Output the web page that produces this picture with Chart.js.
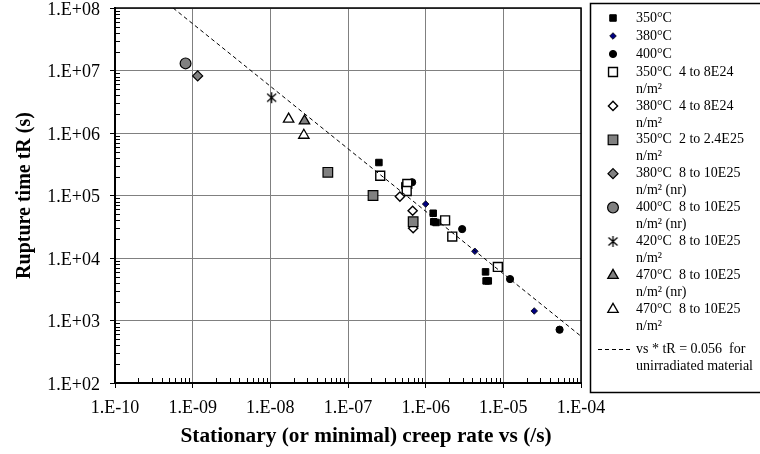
<!DOCTYPE html>
<html>
<head>
<meta charset="utf-8">
<script src="https://cdn.jsdelivr.net/npm/chart.js@4.4.1/dist/chart.umd.min.js"></script>
<style>
html, body { margin: 0; padding: 0; background: #fff; }
</style>
</head>
<body>
<canvas id="myChart" width="760" height="454"></canvas>
<script>
// tick values and labels
var xTicks = [1e-10, 1e-9, 1e-8, 1e-7, 1e-6, 1e-5, 1e-4];
var xTickLabels = ["1.E-10", "1.E-09", "1.E-08", "1.E-07", "1.E-06", "1.E-05", "1.E-04"];
var yTicks = [1e2, 1e3, 1e4, 1e5, 1e6, 1e7, 1e8];
var yTickLabels = ["1.E+02", "1.E+03", "1.E+04", "1.E+05", "1.E+06", "1.E+07", "1.E+08"];
var xTitle = "Stationary (or minimal) creep rate vs (/s)";
var yTitle = "Rupture time tR (s)";

// series: creep rate vs (/s) and rupture time tR (s)
var vs350 = [2.5e-7, 5.4e-7, 1.25e-6, 1.27e-6, 1.36e-6, 5.9e-6, 6.0e-6, 6.4e-6];
var tR350 = [3.37e5, 1.44e5, 5.2e4, 3.8e4, 3.7e4, 6.0e3, 4.3e3, 4.3e3];
var vs380 = [1.0e-6, 4.3e-6, 2.5e-5];
var tR380 = [7.3e4, 1.28e4, 1.42e3];
var vs400 = [6.7e-7, 2.95e-6, 1.22e-5, 5.3e-5];
var tR400 = [1.63e5, 2.9e4, 4.6e3, 713];
var vs350a = [2.6e-7, 5.8e-7, 5.7e-7, 1.78e-6, 2.2e-6, 8.5e-6];
var tR350a = [2.07e5, 1.53e5, 1.18e5, 4.0e4, 2.2e4, 7.2e3];
var vs380a = [4.66e-7, 6.8e-7, 6.9e-7];
var tR380a = [9.6e4, 5.7e4, 3.0e4];
var vs350b = [5.5e-8, 2.1e-7, 6.9e-7];
var tR350b = [2.35e5, 1.0e5, 3.8e4];
var vs380b = [1.16e-9];
var tR380b = [8.2e6];
var vs400b = [8.1e-10];
var tR400b = [1.3e7];
var vs420 = [1.04e-8];
var tR420 = [3.67e6];
var vs470nr = [2.75e-8];
var tR470nr = [1.56e6];
var vs470 = [1.72e-8, 2.7e-8];
var tR470 = [1.67e6, 9.2e5];
// vs * tR = 0.056 (unirradiated material), end points
var vsLine = [5.6e-10, 1e-4];
var tRLine = [1e8, 560];

var legendText = [
  ["350°C"], ["380°C"], ["400°C"],
  ["350°C  4 to 8E24", "n/m²"],
  ["380°C  4 to 8E24", "n/m²"],
  ["350°C  2 to 2.4E25", "n/m²"],
  ["380°C  8 to 10E25", "n/m² (nr)"],
  ["400°C  8 to 10E25", "n/m² (nr)"],
  ["420°C  8 to 10E25", "n/m²"],
  ["470°C  8 to 10E25", "n/m² (nr)"],
  ["470°C  8 to 10E25", "n/m²"],
  ["vs * tR = 0.056  for", "unirradiated material"]
];

function pts(xs, ys) {
  return xs.map(function (x, i) { return { x: x, y: ys[i] }; });
}

// asterisk marker (X with vertical bar)
var star = document.createElement('canvas');
star.width = 13; star.height = 13;
(function () {
  var c = star.getContext('2d');
  c.strokeStyle = '#000';
  c.lineWidth = 1.3;
  c.beginPath();
  c.moveTo(6.5, 1); c.lineTo(6.5, 12);
  c.moveTo(2, 2.5); c.lineTo(11, 10.5);
  c.moveTo(11, 2.5); c.lineTo(2, 10.5);
  c.stroke();
})();

var GRAY = '#808080';
function ser(data, style, r, fill, border, bw, ord) {
  return {
    data: data, pointStyle: style, pointRadius: r, pointHoverRadius: r,
    pointBackgroundColor: fill, pointBorderColor: border, pointBorderWidth: bw,
    showLine: false, order: ord
  };
}

var datasets = [
  ser(pts(vs350, tR350), 'rect', 4.6, '#000', '#000', 1, 20),
  ser(pts(vs380, tR380), 'rectRot', 3.3, '#000080', '#000', 0.8, 19),
  ser(pts(vs400, tR400), 'circle', 3.6, '#000', '#000', 1, 18),
  ser(pts(vs350a, tR350a), 'rect', 6.3, '#fff', '#000', 1.4, 17),
  ser(pts(vs380a, tR380a), 'rectRot', 4.6, '#fff', '#000', 1.4, 16),
  ser(pts(vs350b, tR350b), 'rect', 6.8, GRAY, '#000', 1.2, 15),
  ser(pts(vs380b, tR380b), 'rectRot', 5, GRAY, '#000', 1.2, 14),
  ser(pts(vs400b, tR400b), 'circle', 5.4, GRAY, '#000', 1.2, 13),
  ser(pts(vs420, tR420), star, 6, '#000', '#000', 1, 12),
  ser(pts(vs470nr, tR470nr), 'triangle', 6, GRAY, '#000', 1.3, 11),
  ser(pts(vs470, tR470), 'triangle', 6, '#fff', '#000', 1.3, 10),
  {
    data: pts(vsLine, tRLine), showLine: true, borderColor: '#000', borderWidth: 1,
    borderDash: [4, 3], pointRadius: 0, fill: false, order: -1
  }
];

function fmt(ticks, labels) {
  return function (v) {
    for (var i = 0; i < ticks.length; i++) {
      if (Math.abs(Math.log10(v) - Math.log10(ticks[i])) < 1e-6) return labels[i];
    }
    return '';
  };
}

var serif = '"Liberation Serif", "DejaVu Serif", serif';

var frame = {
  id: 'frame',
  beforeDatasetsDraw: function (chart) {
    var ctx = chart.ctx, a = chart.chartArea;
    var xs = chart.scales.x, ys = chart.scales.y;
    ctx.save();
    ctx.strokeStyle = '#000';
    ctx.lineWidth = 1.5;
    ctx.beginPath();
    ctx.moveTo(a.left, a.top); ctx.lineTo(a.right, a.top); ctx.lineTo(a.right, a.bottom);
    ctx.stroke();
    // inward minor ticks
    ctx.lineWidth = 1;
    ctx.beginPath();
    for (var d = -10; d < -4; d++) {
      for (var k = 2; k < 10; k++) {
        var px = Math.round(xs.getPixelForValue(k * Math.pow(10, d))) + 0.5;
        ctx.moveTo(px, a.bottom); ctx.lineTo(px, a.bottom - 5);
      }
    }
    for (var e = 2; e < 8; e++) {
      for (var m = 2; m < 10; m++) {
        var py = Math.round(ys.getPixelForValue(m * Math.pow(10, e))) + 0.5;
        ctx.moveTo(a.left, py); ctx.lineTo(a.left + 5, py);
      }
    }
    ctx.stroke();
    ctx.restore();
  },
  afterDraw: function (chart) {
    var ctx = chart.ctx;
    ctx.save();
    // x axis title, centred like the original (slightly right of the plot centre)
    ctx.fillStyle = '#000';
    ctx.font = 'bold 21.3px ' + serif;
    ctx.textAlign = 'center';
    ctx.textBaseline = 'middle';
    ctx.fillText(xTitle, 366, 436);

    // legend
    ctx.textAlign = 'left';
    ctx.strokeStyle = '#000';
    ctx.lineWidth = 1.5;
    ctx.strokeRect(590.5, 3.5, 300, 389);
    ctx.font = '14px ' + serif;
    var line = 0;
    for (var i = 0; i < legendText.length; i++) {
      var y0 = line < 3 ? 18 + line * 18 : 72 + (line - 3) * 16.95;
      if (i === legendText.length - 1) y0 += 6;
      var ds = chart.data.datasets[i];
      if (ds.showLine) {
        ctx.save();
        ctx.lineWidth = 1;
        ctx.setLineDash([4, 3]);
        ctx.beginPath();
        ctx.moveTo(598, Math.round(y0) + 0.5); ctx.lineTo(632, Math.round(y0) + 0.5);
        ctx.stroke();
        ctx.restore();
      } else {
        ctx.save();
        ctx.fillStyle = ds.pointBackgroundColor;
        ctx.strokeStyle = ds.pointBorderColor;
        ctx.lineWidth = ds.pointBorderWidth;
        Chart.helpers.drawPoint(ctx, {
          pointStyle: ds.pointStyle, radius: ds.pointRadius, rotation: 0,
          borderWidth: ds.pointBorderWidth
        }, 613, y0);
        ctx.restore();
      }
      ctx.fillStyle = '#000';
      for (var j = 0; j < legendText[i].length; j++) {
        ctx.fillText(legendText[i][j], 636, y0 + j * 16.95);
      }
      line += legendText[i].length;
    }
    ctx.restore();
  }
};

var ctx = document.getElementById("myChart").getContext('2d');
var myChart = new Chart(ctx, {
  type: 'scatter',
  data: { datasets: datasets },
  plugins: [frame],
  options: {
    responsive: false,
    animation: false,
    devicePixelRatio: 1,
    layout: { padding: { left: 0, right: 179, top: 8, bottom: 0 } },
    plugins: { legend: { display: false }, tooltip: { enabled: false } },
    scales: {
      x: {
        type: 'logarithmic', min: 1e-10, max: 1e-4,
        afterBuildTicks: function (s) { s.ticks = xTicks.map(function (v) { return { value: v }; }); },
        afterFit: function (s) { s.height = 71; s.paddingLeft = 0; s.paddingRight = 0; },
        ticks: { callback: fmt(xTicks, xTickLabels), color: '#000', font: { family: serif, size: 18 }, padding: 9, maxRotation: 0, autoSkip: false },
        grid: { color: GRAY, lineWidth: 1, tickColor: '#000', tickLength: 5 },
        border: { color: '#000', width: 2 },
        title: { display: false, text: xTitle }
      },
      y: {
        type: 'logarithmic', min: 1e2, max: 1e8,
        afterBuildTicks: function (s) { s.ticks = yTicks.map(function (v) { return { value: v }; }); },
        afterFit: function (s) { s.width = 115; s.paddingTop = 0; s.paddingBottom = 0; },
        ticks: { callback: fmt(yTicks, yTickLabels), color: '#000', font: { family: serif, size: 18 }, padding: 10, labelOffset: 2, autoSkip: false },
        grid: { color: GRAY, lineWidth: 1, tickColor: '#000', tickLength: 5 },
        border: { color: '#000', width: 2 },
        title: { display: true, text: yTitle, color: '#000', font: { family: serif, size: 20, weight: 'bold' }, padding: { top: 13, bottom: 0 } }
      }
    }
  }
});
</script>
</body>
</html>
